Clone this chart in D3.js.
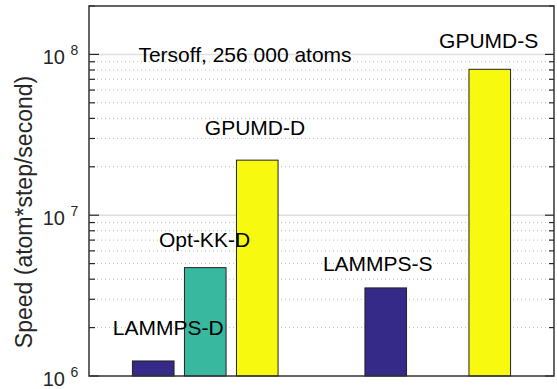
<!DOCTYPE html>
<html>
<head>
<meta charset="utf-8">
<script src="https://cdn.jsdelivr.net/npm/d3@7"></script>
<style>
  body { margin: 0; background: #fff; }
  text { font-family: "Liberation Sans", Arial, Helvetica, sans-serif; }
</style>
</head>
<body>
<div id="chart"></div>
<script>
// data
var groups = ['D', 'S'];
var series = ['LAMMPS', 'Opt-KK', 'GPUMD'];
var speedD = [1.24e6, 4.72e6, 2.2e7];
var speedS = [3.53e6, null, 8.08e7];
var yTicks = [1e6, 1e7, 1e8];
var yDomain = [1e6, 2e8];

// text annotations, in data units (x = group number, y = speed)
var labelText = ['Tersoff, 256 000 atoms', 'GPUMD-S', 'GPUMD-D', 'Opt-KK-D', 'LAMMPS-S', 'LAMMPS-D'];
var labelX = [1.171, 2.219, 1.214, 0.997, 1.742, 0.841];
var labelY = [8.93e7, 1.09e8, 3.15e7, 6.34e6, 4.52e6, 1.80e6];

var colors = ['#352a87', '#38b99f', '#f7fa0f'];

var width = 557, height = 389;
var margin = { top: 6, right: 3, bottom: 13, left: 89 };
var w = width - margin.left - margin.right;
var h = height - margin.top - margin.bottom;

var svg = d3.select('#chart')
  .append('svg')
  .attr('width', width)
  .attr('height', height);

var g = svg.append('g')
  .attr('transform', 'translate(' + margin.left + ',' + margin.top + ')');

// scales
var y = d3.scaleLog().domain(yDomain).range([h, 0]);
var x0 = d3.scaleBand().domain(groups).range([0, w]);
var x1 = d3.scaleBand().domain(series).range([0, x0.bandwidth()])
  .paddingInner(0.2).paddingOuter(0.835);
var xa = d3.scaleLinear().domain([0.5, 2.5]).range([0, w]);

// minor and major grid lines
var minor = [];
[1e6, 1e7, 1e8].forEach(function(dec) {
  for (var k = 2; k <= 9; k++) {
    if (dec * k <= yDomain[1]) minor.push(dec * k);
  }
});
g.selectAll('.minor-grid')
  .data(minor)
  .enter().append('line')
  .attr('class', 'minor-grid')
  .attr('x1', 0).attr('x2', w)
  .attr('y1', function(d) { return y(d); })
  .attr('y2', function(d) { return y(d); })
  .attr('stroke', '#bdbdbd')
  .attr('stroke-width', 1)
  .attr('stroke-dasharray', '1,3');
g.selectAll('.major-grid')
  .data(yTicks.slice(1))
  .enter().append('line')
  .attr('class', 'major-grid')
  .attr('x1', 0).attr('x2', w)
  .attr('y1', function(d) { return y(d); })
  .attr('y2', function(d) { return y(d); })
  .attr('stroke', '#dedede')
  .attr('stroke-width', 1.5);

// bars
var rows = [speedD, speedS];
var grp = g.selectAll('.group')
  .data(groups)
  .enter().append('g')
  .attr('class', 'group')
  .attr('transform', function(d) { return 'translate(' + x0(d) + ',0)'; });
grp.selectAll('rect')
  .data(function(d, i) {
    return series.map(function(s, j) { return { s: s, v: rows[i][j], c: colors[j] }; })
      .filter(function(b) { return b.v != null; });
  })
  .enter().append('rect')
  .attr('x', function(d) { return x1(d.s); })
  .attr('width', x1.bandwidth())
  .attr('y', function(d) { return y(d.v); })
  .attr('height', function(d) { return h - y(d.v); })
  .attr('fill', function(d) { return d.c; })
  .attr('stroke', '#222')
  .attr('stroke-width', 1);

// ticks on both sides, pointing in
var allTicks = yTicks.map(function(d) { return { v: d, len: [10, 9] }; })
  .concat(minor.map(function(d) { return { v: d, len: [6, 5] }; }));
g.selectAll('.tick-l')
  .data(allTicks)
  .enter().append('line')
  .attr('x1', 0)
  .attr('x2', function(d) { return d.len[0]; })
  .attr('y1', function(d) { return y(d.v); })
  .attr('y2', function(d) { return y(d.v); })
  .attr('stroke', '#262626').attr('stroke-width', 1.2);
g.selectAll('.tick-r')
  .data(allTicks)
  .enter().append('line')
  .attr('x1', w)
  .attr('x2', function(d) { return w - d.len[1]; })
  .attr('y1', function(d) { return y(d.v); })
  .attr('y2', function(d) { return y(d.v); })
  .attr('stroke', '#262626').attr('stroke-width', 1.2);

// box
g.append('rect')
  .attr('x', 0).attr('y', 0)
  .attr('width', w).attr('height', h)
  .attr('fill', 'none')
  .attr('stroke', '#333')
  .attr('stroke-width', 1.5);

// tick labels, 10 with superscript exponent
var tl = g.selectAll('.ytl')
  .data(yTicks)
  .enter().append('g')
  .attr('class', 'ytl')
  .attr('transform', function(d) { return 'translate(0,' + y(d) + ')'; });
tl.append('text')
  .attr('x', -24).attr('y', 10)
  .attr('text-anchor', 'end')
  .attr('font-size', 20)
  .attr('fill', '#262626')
  .text('10');
tl.append('text')
  .attr('x', -18.5).attr('y', 1)
  .attr('font-size', 14)
  .attr('fill', '#262626')
  .text(function(d) { return Math.round(Math.log10(d)); });

// y axis title
svg.append('text')
  .attr('transform', 'translate(32,212) rotate(-90)')
  .attr('text-anchor', 'middle')
  .attr('font-size', 23)
  .attr('fill', '#262626')
  .text('Speed (atom*step/second)');

// annotations
g.selectAll('.label')
  .data(labelText)
  .enter().append('text')
  .attr('class', 'label')
  .attr('x', function(d, i) { return xa(labelX[i]); })
  .attr('y', function(d, i) { return y(labelY[i]); })
  .attr('text-anchor', 'middle')
  .attr('font-size', 21)
  .attr('fill', '#000')
  .text(function(d) { return d; });
</script>
</body>
</html>
